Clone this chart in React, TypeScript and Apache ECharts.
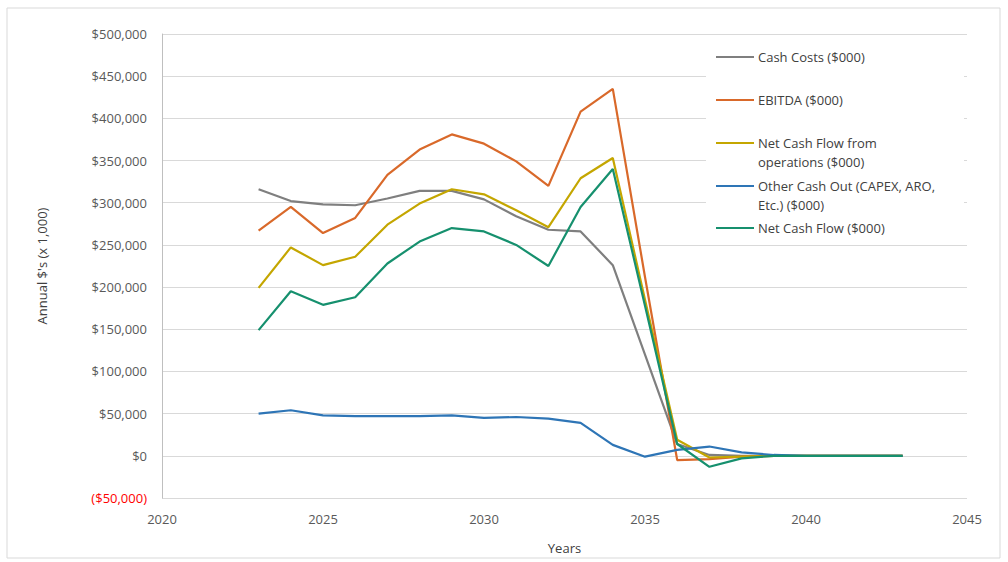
import React, { useEffect, useRef } from "react";
import * as echarts from "echarts";

const years = [2023, 2024, 2025, 2026, 2027, 2028, 2029, 2030, 2031, 2032, 2033, 2034, 2035, 2036, 2037, 2038, 2039, 2040, 2041, 2042, 2043];
const cashCosts = [316000, 302000, 298000, 297000, 305000, 314000, 314000, 304000, 284000, 268000, 266000, 226000, 120000, 14000, 1000, 0, 0, 0, 0, 0, 0];
const ebitda = [267000, 295000, 264000, 282000, 333000, 363000, 381000, 370000, 349000, 320000, 408000, 435000, 212000, -5000, -4000, -1000, 0, 0, 0, 0, 0];
const ncfOps = [199000, 247000, 226000, 236000, 274000, 299000, 316000, 310000, 291000, 271000, 329000, 353000, 185000, 19000, -2000, -1000, 0, 0, 0, 0, 0];
const otherCashOut = [50000, 54000, 48000, 47000, 47000, 47000, 48000, 45000, 46000, 44000, 39000, 13000, -1000, 7000, 11000, 4000, 1000, 0, 0, 0, 0];
const netCashFlow = [149000, 195000, 179000, 188000, 228000, 254000, 270000, 266000, 250000, 225000, 295000, 340000, 178000, 14000, -13000, -3000, 0, 0, 0, 0, 0];

const seriesNames = [
  "Cash Costs ($000)",
  "EBITDA ($000)",
  "Net Cash Flow from\noperations ($000)",
  "Other Cash Out (CAPEX, ARO,\nEtc.) ($000)",
  "Net Cash Flow ($000)",
];
const seriesData = [cashCosts, ebitda, ncfOps, otherCashOut, netCashFlow];
const colors = ["#7f7f7f", "#d9692a", "#c4a600", "#2e75b6", "#16906e"];

const xTicks = { min: 2020, max: 2045, interval: 5 };
const yTicks = { min: -50000, max: 500000, interval: 50000 };

const FONT = "Open Sans";

function fmt(v: number) {
  const s = Math.abs(v).toLocaleString("en-US");
  return v < 0 ? `{neg|($${s})}` : `$${s}`;
}

export default function App() {
  const ref = useRef<HTMLDivElement>(null);
  useEffect(() => {
    if (!ref.current) return;
    const chart = echarts.init(ref.current, null, { renderer: "svg" });

    const legendYs = [57, 100, 143, 186, 228];
    const legendGraphics: any[] = [
      { type: "rect", shape: { x: 706, y: 40, width: 258, height: 200 }, style: { fill: "#ffffff" }, z: 50 },
    ];
    seriesNames.forEach((name, i) => {
      const y = legendYs[i];
      legendGraphics.push({
        type: "line",
        shape: { x1: 716, y1: y, x2: 754, y2: y },
        style: { stroke: colors[i], lineWidth: 2 },
        z: 51,
      });
      name.split("\n").forEach((line, j) => {
        legendGraphics.push({
          type: "text",
          x: 758,
          y: y + j * 19,
          style: {
            text: line,
            fill: "#404040",
            font: `13px "${FONT}"`,
            verticalAlign: "middle",
            align: "left",
          },
          z: 51,
        });
      });
    });

    chart.setOption({
      animation: false,
      backgroundColor: "#ffffff",
      grid: { left: 162, right: 41, top: 34, bottom: 64, containLabel: false, outerBoundsMode: "none" },
      xAxis: {
        type: "value",
        min: xTicks.min,
        max: xTicks.max,
        interval: xTicks.interval,
        name: "Years",
        nameLocation: "middle",
        nameGap: 43,
        nameTextStyle: { color: "#404040", fontSize: 13, fontFamily: FONT },
        axisLine: { show: false },
        axisTick: { show: false },
        splitLine: { show: false },
        axisLabel: { color: "#595959", fontSize: 13, fontFamily: FONT, margin: 14, formatter: (v: number) => String(v) },
      },
      yAxis: {
        type: "value",
        min: yTicks.min,
        max: yTicks.max,
        interval: yTicks.interval,
        name: "Annual $'s (x 1,000)",
        nameLocation: "middle",
        nameGap: 114,
        nameTextStyle: { color: "#404040", fontSize: 13, fontFamily: FONT },
        axisLine: { show: true, lineStyle: { color: "#bfbfbf", width: 1 } },
        axisTick: { show: false },
        splitLine: { show: true, lineStyle: { color: "#d9d9d9", width: 1 } },
        axisLabel: {
          color: "#595959",
          fontSize: 13,
          fontFamily: FONT,
          margin: 15,
          formatter: fmt,
          rich: { neg: { color: "#ff0000", fontSize: 13, fontFamily: FONT } },
        },
      },
      series: seriesData.map((d, i) => ({
        type: "line",
        name: seriesNames[i].replace("\n", " "),
        data: years.map((y, k) => [y, d[k]]),
        showSymbol: false,
        symbol: "none",
        lineStyle: { color: colors[i], width: 2.2 },
        itemStyle: { color: colors[i] },
        z: 2 + i,
      })),
      graphic: [
        {
          type: "rect",
          shape: { x: 7, y: 8, width: 993, height: 550 },
          style: { fill: "none", stroke: "#d9d9d9", lineWidth: 1 },
          z: 0,
          silent: true,
        },
        ...legendGraphics,
      ],
    });
    return () => chart.dispose();
  }, []);
  return (
    <div
      ref={ref}
      style={{ position: "fixed", left: 0, top: 0, width: 1008, height: 562 }}
    />
  );
}
